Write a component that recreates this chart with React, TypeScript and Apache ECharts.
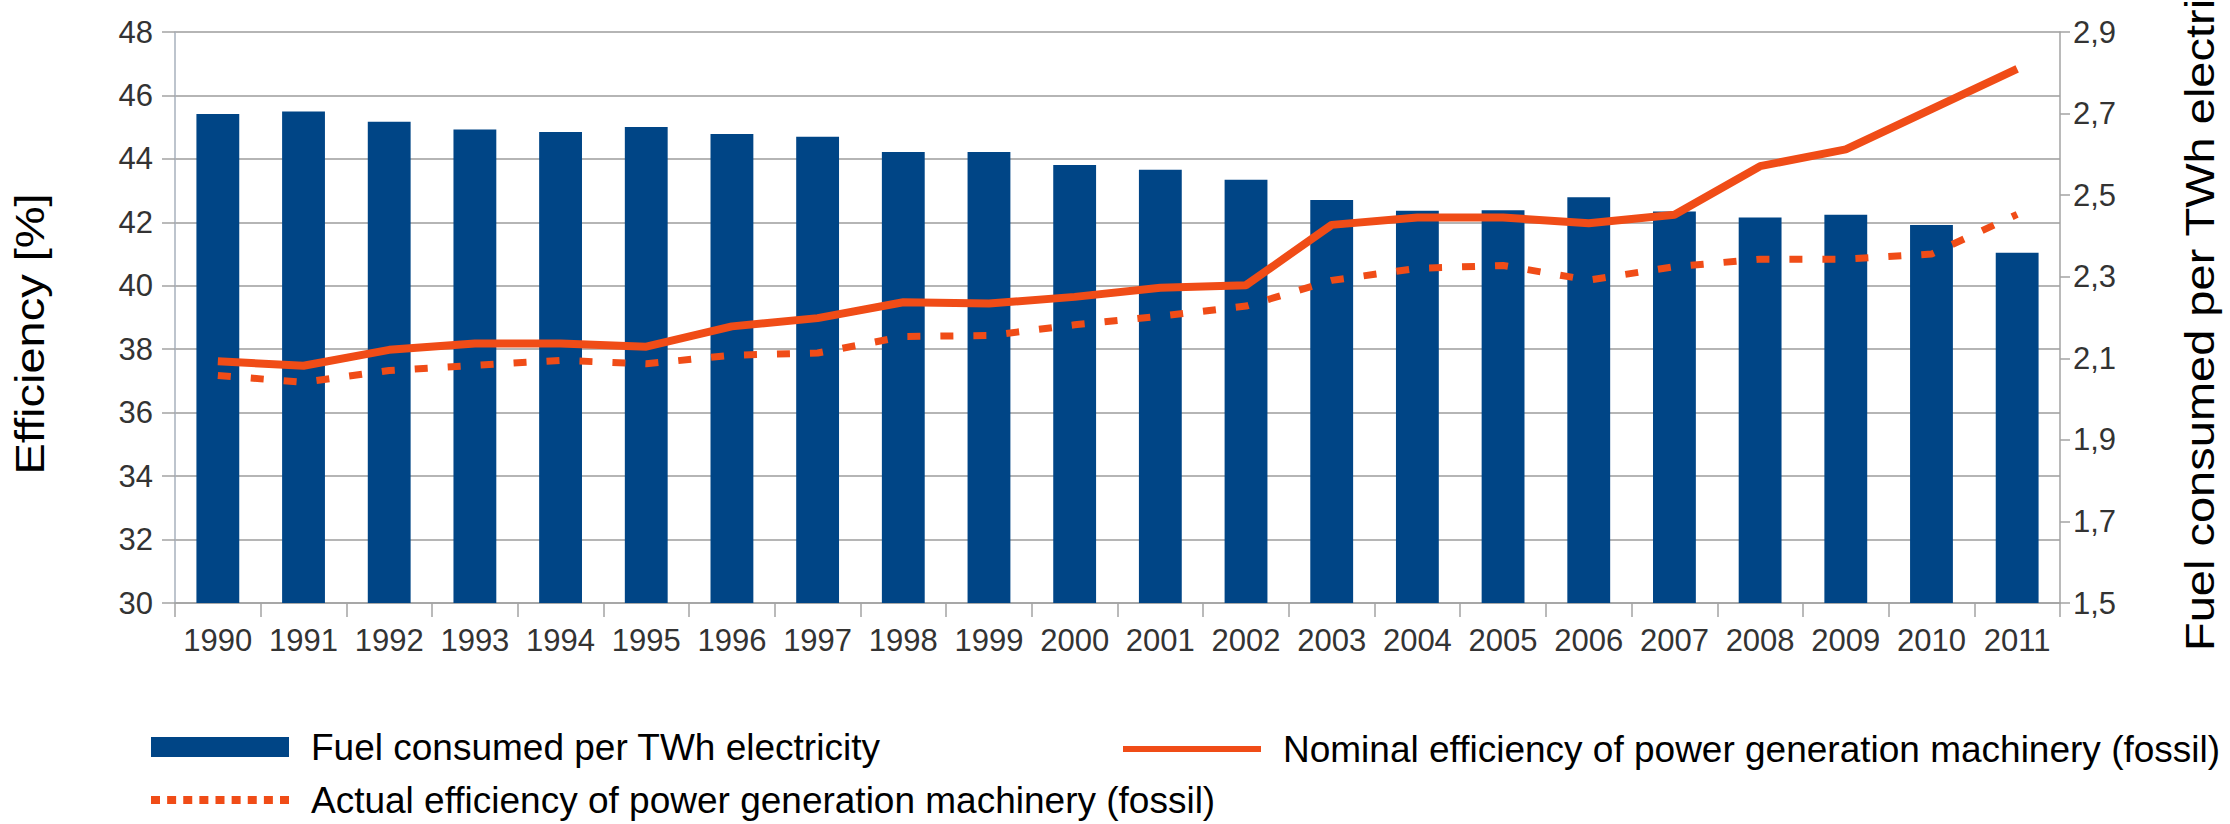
import React, { useEffect, useRef } from "react";
import * as echarts from "echarts";

const years = ["1990","1991","1992","1993","1994","1995","1996","1997","1998","1999","2000","2001","2002","2003","2004","2005","2006","2007","2008","2009","2010","2011"];
// Fuel consumed per TWh electricity (right axis)
const fuelPerTWh = [2.699,2.705,2.680,2.661,2.655,2.667,2.650,2.643,2.606,2.606,2.574,2.562,2.538,2.488,2.462,2.463,2.495,2.460,2.445,2.452,2.427,2.359];
// Nominal efficiency [%] (left axis)
const nominalEff = [37.62,37.48,37.98,38.18,38.18,38.08,38.72,38.98,39.48,39.44,39.65,39.94,40.02,41.92,42.15,42.15,41.97,42.24,43.77,44.3,45.57,46.84];
// Actual efficiency [%] (left axis)
const actualEff = [37.17,36.96,37.33,37.49,37.65,37.54,37.81,37.88,38.4,38.43,38.77,39.04,39.36,40.17,40.55,40.64,40.18,40.6,40.84,40.84,41.0,42.25];
const rightTicks = [1.5,1.7,1.9,2.1,2.3,2.5,2.7,2.9];

const NAME_FUEL = "Fuel consumed per TWh electricity";
const NAME_NOM = "Nominal efficiency of power generation machinery (fossil)";
const NAME_ACT = "Actual efficiency of power generation machinery (fossil)";

const BLUE = "#004586";
const ORANGE = "#f04c17";
const REG = "'Liberation Sans', Arial, Helvetica, sans-serif";
const NARROW = "'Liberation Sans Narrow', 'Arial Narrow', 'Liberation Sans', Arial, sans-serif";
const AXIS_GRAY = "#a3a3a3";

function dashPath(): string {
  let p = "path://";
  const period = (138 - 9) / 8;
  for (let i = 0; i < 9; i++) {
    const x = (i * period).toFixed(2);
    p += `M${x},0h9v8h-9z`;
  }
  return p;
}

export default function App() {
  const ref = useRef<HTMLDivElement>(null);
  useEffect(() => {
    document.body.style.margin = "0";
    if (!ref.current) return;
    const chart = echarts.init(ref.current, undefined, { renderer: "svg" });
    const legendText = { fontSize: 37, fontFamily: REG, color: "#000", lineHeight: 44, padding: [0, 0, 0, 17] };
    chart.setOption({
      animation: false,
      backgroundColor: "#ffffff",
      grid: { left: 175, right: 170, top: 32, height: 571, containLabel: false },
      xAxis: {
        type: "category",
        data: years,
        boundaryGap: true,
        axisLine: { show: true, lineStyle: { color: AXIS_GRAY, width: 1.5 } },
        axisTick: { show: true, length: 14, lineStyle: { color: AXIS_GRAY, width: 1.5 } },
        axisLabel: { interval: 0, margin: 22, fontSize: 31, fontFamily: NARROW, color: "#333" },
      },
      yAxis: [
        {
          type: "value",
          min: 30,
          max: 48,
          interval: 2,
          position: "left",
          axisLine: { show: true, lineStyle: { color: "#a7b0bd", width: 1.5 } },
          axisTick: { show: true, length: 13, lineStyle: { color: AXIS_GRAY, width: 1.5 } },
          splitLine: { show: true, lineStyle: { color: "#b5b5b5", width: 2 } },
          axisLabel: { margin: 22, fontSize: 31, fontFamily: REG, color: "#333" },
        },
        {
          type: "value",
          min: 1.5,
          max: 2.9,
          position: "right",
          splitLine: { show: false },
          axisLine: { show: true, lineStyle: { color: AXIS_GRAY, width: 1.5 } },
          axisTick: { show: true, length: 10, customValues: rightTicks, lineStyle: { color: AXIS_GRAY, width: 1.5 } },
          axisLabel: {
            customValues: rightTicks,
            margin: 13,
            fontSize: 31,
            fontFamily: REG,
            color: "#333",
            formatter: (v: number) => v.toFixed(1).replace(".", ","),
          },
        },
      ],
      legend: [
        {
          data: [{ name: NAME_FUEL, icon: "rect" }],
          left: 151, top: 725, padding: 0, itemWidth: 138, itemHeight: 20,
          selectedMode: false, textStyle: legendText,
        },
        {
          data: [{ name: NAME_NOM, icon: "rect" }],
          left: 1123, top: 727, padding: 0, itemWidth: 138, itemHeight: 6,
          selectedMode: false, textStyle: legendText,
        },
        {
          data: [{ name: NAME_ACT, icon: dashPath() }],
          left: 151, top: 778, padding: 0, itemWidth: 138, itemHeight: 8,
          selectedMode: false, textStyle: legendText,
        },
      ],
      graphic: [
        {
          type: "text",
          x: 30,
          y: 334,
          rotation: Math.PI / 2,
          scaleY: 0.87,
          style: { text: "Efficiency [%]", fontSize: 47, fontFamily: REG, fill: "#000", align: "center", verticalAlign: "middle" },
        },
        {
          type: "text",
          x: 2200,
          y: 651,
          rotation: Math.PI / 2,
          scaleY: 0.87,
          style: { text: "Fuel consumed per TWh electricity", fontSize: 47, fontFamily: REG, fill: "#000", align: "left", verticalAlign: "middle" },
        },
      ],
      series: [
        {
          name: NAME_FUEL,
          type: "bar",
          yAxisIndex: 1,
          data: fuelPerTWh,
          barWidth: "50%",
          itemStyle: { color: BLUE },
          z: 1,
        },
        {
          name: NAME_NOM,
          type: "line",
          yAxisIndex: 0,
          data: nominalEff,
          symbol: "none",
          lineStyle: { color: ORANGE, width: 8 },
          itemStyle: { color: ORANGE },
          z: 3,
        },
        {
          name: NAME_ACT,
          type: "line",
          yAxisIndex: 0,
          data: actualEff,
          symbol: "none",
          lineStyle: { color: ORANGE, width: 7, type: [13, 20] },
          itemStyle: { color: ORANGE },
          z: 2,
        },
      ],
    });
    return () => chart.dispose();
  }, []);
  return <div ref={ref} style={{ width: 2230, height: 824 }} />;
}
